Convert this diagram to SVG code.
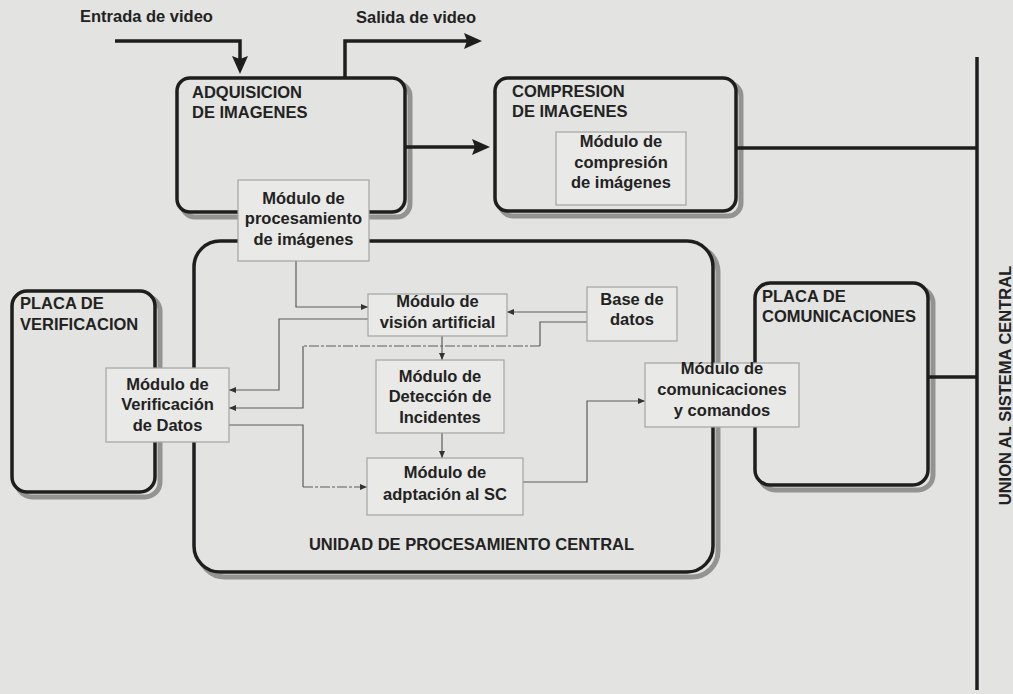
<svg xmlns="http://www.w3.org/2000/svg" width="1013" height="694" viewBox="0 0 1013 694">
  <defs>
    <style>
      .bg{fill:#e3e3e1}
      .box{fill:#e3e3e1;stroke:#1e1e1e;stroke-width:3.5}
      .shadow{fill:none;stroke:#939391;stroke-width:5}
      .mod{fill:#e9e9e7;stroke:#a4a4a2;stroke-width:1.2}
      .thick{fill:none;stroke:#1e1e1e;stroke-width:3.5}
      .thin{fill:none;stroke:#5c5c5c;stroke-width:1.2}
      .dash{stroke-dasharray:10 2 3 2}
      text{font-family:"Liberation Sans",Arial,sans-serif;font-weight:bold;font-size:16.5px;fill:#222}
      .c{text-anchor:middle}
    </style>
    <marker id="bigArrow" viewBox="0 0 18 16" refX="14" refY="8" markerWidth="18" markerHeight="16" markerUnits="userSpaceOnUse" orient="auto">
      <path d="M0,0 L18,8 L0,16 L3,8 Z" fill="#1e1e1e"/>
    </marker>
    <marker id="smallArrow" viewBox="0 0 7 6" refX="7" refY="3" markerWidth="7" markerHeight="6" markerUnits="userSpaceOnUse" orient="auto">
      <path d="M0,0 L7,3 L0,6 Z" fill="#333"/>
    </marker>
  </defs>

  <rect class="bg" x="0" y="0" width="1013" height="694"/>

  <!-- large housings: a grey offset outline, covered inside by the filled frame -->
  <g id="unidad-central">
    <rect class="shadow" x="199" y="246" width="519" height="331" rx="26"/>
    <rect class="box" x="194" y="241" width="519" height="331" rx="26"/>
    <text class="c" x="471.5" y="550">UNIDAD DE PROCESAMIENTO CENTRAL</text>
  </g>

  <g id="adquisicion">
    <rect class="shadow" x="182" y="83" width="228" height="134" rx="13"/>
    <rect class="box" x="177" y="78" width="228" height="134" rx="13"/>
    <text x="192" y="98">ADQUISICION</text>
    <text x="192" y="118">DE IMAGENES</text>
  </g>

  <g id="compresion">
    <rect class="shadow" x="500" y="83" width="241" height="133" rx="13"/>
    <rect class="box" x="495" y="78" width="241" height="133" rx="13"/>
    <text x="512" y="97">COMPRESION</text>
    <text x="512" y="117">DE IMAGENES</text>
  </g>

  <g id="placa-verificacion">
    <rect class="shadow" x="17" y="296" width="143" height="201" rx="15"/>
    <rect class="box" x="12" y="291" width="143" height="201" rx="15"/>
    <text x="20" y="309">PLACA DE</text>
    <text x="20" y="330">VERIFICACION</text>
  </g>

  <g id="placa-comunicaciones">
    <rect class="shadow" x="760" y="288" width="173" height="202" rx="15"/>
    <rect class="box" x="755" y="283" width="173" height="202" rx="15"/>
    <text x="762" y="302">PLACA DE</text>
    <text x="762" y="322">COMUNICACIONES</text>
  </g>

  <!-- connectors -->
  <g id="connectors">
    <path class="thick" d="M115,41 H240 V70" marker-end="url(#bigArrow)"/>
    <path class="thick" d="M345,77 V41 H478" marker-end="url(#bigArrow)"/>
    <path class="thick" d="M405,147 H486" marker-end="url(#bigArrow)"/>
    <path class="thick" d="M736,148 H977"/>
    <path class="thick" d="M928,377 H977"/>
    <path class="thick" d="M977,57 V690"/>

    <path class="thin" d="M296,261 V307 H368" marker-end="url(#smallArrow)"/>
    <path class="thin" d="M368,319 H279 V390 H229" marker-end="url(#smallArrow)"/>
    <path class="thin" d="M587,312 H507" marker-end="url(#smallArrow)"/>
    <path class="thin" d="M587,322 H540 V346"/>
    <path class="thin dash" d="M540,346 H303"/>
    <path class="thin" d="M303,346 V408 H229" marker-end="url(#smallArrow)"/>
    <path class="thin" d="M442,336 V360" marker-end="url(#smallArrow)"/>
    <path class="thin" d="M442,433 V458" marker-end="url(#smallArrow)"/>
    <path class="thin" d="M229,425 H303 V487"/>
    <path class="thin dash" d="M303,487 H367" marker-end="url(#smallArrow)"/>
    <path class="thin" d="M523,482 H587 V401 H645" marker-end="url(#smallArrow)"/>

    <text transform="translate(1011,385.5) rotate(-90)" class="c">UNION AL SISTEMA CENTRAL</text>
  </g>

  <!-- modules -->
  <g id="mod-procesamiento">
    <rect class="mod" x="238" y="180" width="131" height="81"/>
    <text class="c" x="303.5" y="204">Módulo de</text>
    <text class="c" x="303.5" y="224">procesamiento</text>
    <text class="c" x="303.5" y="245">de imágenes</text>
  </g>

  <g id="mod-compresion">
    <rect class="mod" x="556" y="132" width="130" height="73"/>
    <text class="c" x="621" y="147">Módulo de</text>
    <text class="c" x="621" y="168">compresión</text>
    <text class="c" x="621" y="188">de imágenes</text>
  </g>

  <g id="mod-vision">
    <rect class="mod" x="368" y="294" width="139" height="42"/>
    <text class="c" x="437.5" y="307">Módulo de</text>
    <text class="c" x="437.5" y="328">visión artificial</text>
  </g>

  <g id="base-datos">
    <rect class="mod" x="587" y="287" width="90" height="54"/>
    <text class="c" x="632" y="305">Base de</text>
    <text class="c" x="632" y="325">datos</text>
  </g>

  <g id="mod-deteccion">
    <rect class="mod" x="376" y="360" width="128" height="73"/>
    <text class="c" x="440" y="382">Módulo de</text>
    <text class="c" x="440" y="402">Detección de</text>
    <text class="c" x="440" y="423">Incidentes</text>
  </g>

  <g id="mod-adaptacion">
    <rect class="mod" x="367" y="458" width="156" height="57"/>
    <text class="c" x="445" y="478">Módulo de</text>
    <text class="c" x="445" y="500">adptación al SC</text>
  </g>

  <g id="mod-comunicaciones">
    <rect class="mod" x="645" y="363" width="154" height="64"/>
    <text class="c" x="722" y="374">Módulo de</text>
    <text class="c" x="722" y="395">comunicaciones</text>
    <text class="c" x="722" y="416">y comandos</text>
  </g>

  <g id="mod-verificacion">
    <rect class="mod" x="106" y="368" width="123" height="74"/>
    <text class="c" x="167.5" y="390">Módulo de</text>
    <text class="c" x="167.5" y="410">Verificación</text>
    <text class="c" x="167.5" y="431">de Datos</text>
  </g>

  <text x="80" y="22">Entrada de video</text>
  <text x="356" y="23">Salida de video</text>
</svg>
